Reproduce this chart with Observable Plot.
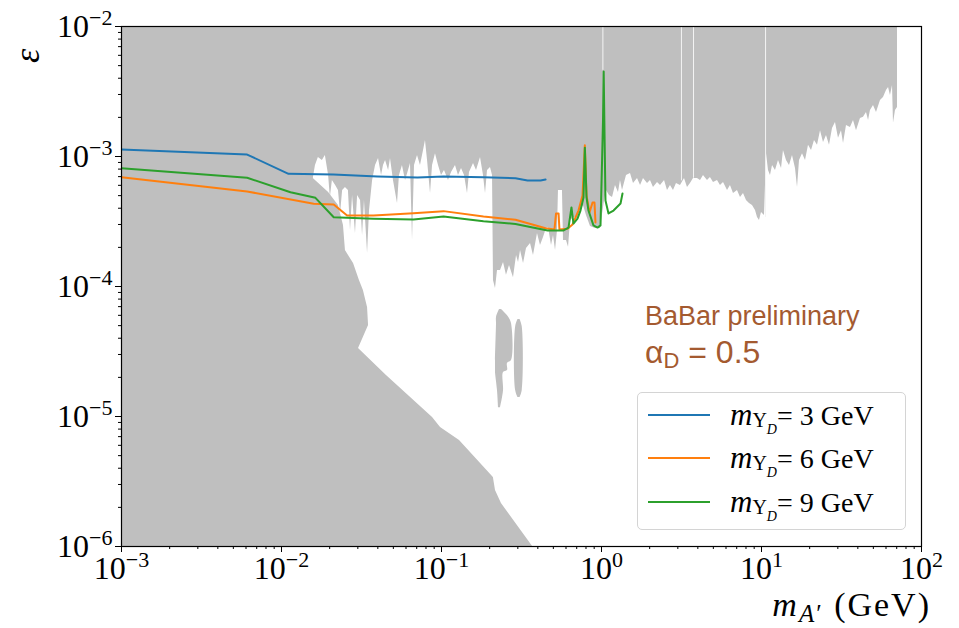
<!DOCTYPE html>
<html><head><meta charset="utf-8">
<script src="https://cdn.jsdelivr.net/npm/d3@7"></script>
<script src="https://cdn.jsdelivr.net/npm/@observablehq/plot@0.6"></script>
<style>
body{margin:0;background:#fff;}
#wrap{position:relative;width:959px;height:628px;font-family:"Liberation Serif",serif;color:#000;}
#wrap svg{position:absolute;left:0;top:0;}
.ann{position:absolute;white-space:nowrap;}
.brown{color:#a45a30;font-family:"Liberation Sans",Arial,sans-serif;}
.legend{position:absolute;left:637px;top:392px;width:269px;height:138px;border:1px solid #d4d4d4;border-radius:5px;background:rgba(255,255,255,0.85);box-sizing:border-box;}
.lrow{position:absolute;font-size:28px;line-height:34px;white-space:nowrap;}
.lline{position:absolute;height:2px;}
</style></head><body><div id="wrap"></div>
<script>
// ---- data (mass in GeV, epsilon) ----
const xTicks = [1e-3, 1e-2, 1e-1, 1, 10, 100];
const yTicks = [1e-6, 1e-5, 1e-4, 1e-3, 1e-2];

const seriesNames = ["3", "6", "9"];
const seriesColors = ["#1f77b4", "#ff7f0e", "#2ca02c"];

const blueMass = [0.001, 0.0061, 0.01106, 0.0211, 0.0398, 0.0708, 0.103, 0.183, 0.290, 0.345, 0.416, 0.447];
const blueEps  = [1.13e-3, 1.035e-3, 7.36e-4, 7.28e-4, 7.02e-4, 6.89e-4, 7.02e-4, 6.93e-4, 6.81e-4, 6.54e-4, 6.54e-4, 6.65e-4];

const orangeMass = [0.001, 0.0061, 0.0159, 0.0212, 0.0257, 0.0376, 0.0668, 0.103, 0.183, 0.290, 0.447, 0.508, 0.520, 0.539, 0.546, 0.613, 0.659, 0.718, 0.761, 0.787, 0.806, 0.841, 0.879, 0.904, 0.917];
const orangeEps  = [6.93e-4, 5.38e-4, 4.33e-4, 4.27e-4, 3.52e-4, 3.52e-4, 3.66e-4, 3.80e-4, 3.45e-4, 3.26e-4, 2.81e-4, 2.74e-4, 3.65e-4, 3.65e-4, 2.74e-4, 2.78e-4, 3.00e-4, 3.84e-4, 5.01e-4, 1.22e-3, 5.01e-4, 3.71e-4, 4.43e-4, 4.43e-4, 3.11e-4];

const greenMass = [0.001, 0.0061, 0.01138, 0.0163, 0.0212, 0.0376, 0.0668, 0.103, 0.183, 0.290, 0.460, 0.579, 0.622, 0.649, 0.668, 0.708, 0.739, 0.772, 0.787, 0.806, 0.829, 0.891, 0.944, 0.986, 1.022, 1.032, 1.044, 1.059, 1.106, 1.189, 1.315, 1.353];
const greenEps  = [8.13e-4, 6.86e-4, 5.31e-4, 4.81e-4, 3.41e-4, 3.32e-4, 3.28e-4, 3.45e-4, 3.18e-4, 3.03e-4, 2.70e-4, 2.70e-4, 2.84e-4, 4.06e-4, 3.05e-4, 3.33e-4, 3.84e-4, 4.84e-4, 1.17e-3, 4.84e-4, 3.84e-4, 2.95e-4, 2.84e-4, 2.95e-4, 1.89e-3, 4.51e-3, 1.58e-3, 4.59e-4, 3.65e-4, 3.84e-4, 4.35e-4, 5.19e-4];

// excluded region: lower edge of the upper band [mass, eps]
const upperEdge = [
[0.001,6.78e-4],
[0.0158,6.78e-4],[0.0163,8.53e-4],[0.0170,9.82e-4],[0.0180,9.31e-4],[0.0188,1.02e-3],[0.0197,7.14e-4],[0.0202,4.84e-4],[0.0208,6.54e-4],[0.0218,5.98e-4],[0.0227,5.48e-4],
[0.0234,3.65e-4],[0.0241,5.48e-4],[0.0251,5.78e-4],[0.0262,5.48e-4],[0.0270,2.70e-4],[0.0278,5.01e-4],[0.0290,2.56e-4],[0.0299,5.01e-4],[0.0312,4.59e-4],[0.0321,2.47e-4],
[0.0330,4.59e-4],[0.0345,1.80e-4],[0.0355,3.84e-4],[0.0371,6.54e-4],[0.0387,8.53e-4],[0.0404,9.66e-4],[0.0422,7.14e-4],[0.0434,8.53e-4],[0.0447,9.31e-4],[0.0467,7.80e-4],
[0.0480,9.66e-4],[0.0501,6.54e-4],[0.0531,4.35e-4],[0.0546,7.14e-4],[0.0570,8.53e-4],[0.0596,6.54e-4],[0.0622,7.80e-4],[0.0640,8.83e-4],[0.0659,2.26e-4],[0.0678,8.53e-4],
[0.0708,1.02e-3],[0.0739,8.53e-4],[0.0772,1.11e-3],[0.0794,1.33e-3],[0.0818,9.31e-4],[0.0854,5.19e-4],[0.0879,8.53e-4],[0.0917,1.05e-3],[0.0958,8.53e-4],[0.100,7.14e-4],
[0.1044,7.80e-4],[0.1106,6.54e-4],[0.1155,7.53e-4],[0.1223,8.53e-4],[0.1277,7.14e-4],[0.1334,8.09e-4],[0.1393,7.14e-4],[0.1454,5.19e-4],[0.1496,7.53e-4],[0.1585,8.83e-4],
[0.1655,7.80e-4],[0.1753,9.82e-4],[0.1830,7.14e-4],[0.1884,5.19e-4],[0.1939,7.80e-4],[0.2024,8.23e-4],[0.2084,7.14e-4],[0.2113,1.11e-4],[0.2175,9.66e-5],[0.2239,1.33e-4],
[0.2338,1.33e-4],[0.2441,1.53e-4],[0.2547,1.22e-4],[0.2661,1.45e-4],[0.2818,1.17e-4],[0.2944,1.73e-4],[0.3030,1.53e-4],[0.3119,1.89e-4],[0.3256,1.50e-4],[0.3398,1.96e-4],
[0.3600,2.14e-4],[0.3758,1.73e-4],[0.3981,2.56e-4],[0.4157,2.07e-4],[0.4340,2.38e-4],[0.4530,2.79e-4],[0.4667,2.84e-4],[0.4870,2.07e-4],[0.5012,2.47e-4],[0.5160,1.89e-4],
[0.5309,2.70e-4],[0.5383,5.48e-4],[0.5702,5.48e-4],[0.5788,2.26e-4],[0.6043,2.26e-4],[0.6223,2.0e-4],[0.6405,3.22e-4],[0.6683,3.40e-4],[0.7079,3.33e-4],[0.7391,3.84e-4],
[0.7718,4.20e-4],[0.8058,3.52e-4],[0.8536,2.90e-4],[0.9173,2.79e-4],[0.9857,2.79e-4],[1.0441,4.59e-4],[1.0746,5.48e-4],[1.122,5.01e-4],[1.172,4.84e-4],[1.223,5.98e-4],
[1.277,5.28e-4],[1.314,6.54e-4],[1.353,5.48e-4],[1.433,7.14e-4],[1.518,7.40e-4],[1.585,6.20e-4],[1.679,6.78e-4],[1.754,5.98e-4],[1.830,6.78e-4],[1.939,6.20e-4],
[2.024,6.54e-4],[2.113,5.78e-4],[2.239,6.31e-4],[2.338,5.98e-4],[2.477,6.54e-4],[2.585,5.48e-4],[2.698,5.98e-4],[2.818,5.48e-4],[2.942,6.20e-4],[3.117,5.98e-4],
[3.302,6.78e-4],[3.447,5.78e-4],[3.597,6.20e-4],[3.758,6.78e-4],[3.981,6.78e-4],[4.157,6.54e-4],[4.340,7.14e-4],[4.597,6.54e-4],[4.797,6.89e-4],[5.012,6.31e-4],
[5.309,6.54e-4],[5.541,5.98e-4],[5.788,6.31e-4],[6.131,5.48e-4],[6.398,5.98e-4],[6.683,5.19e-4],[7.079,5.48e-4],[7.391,4.84e-4],[7.718,5.19e-4],[8.058,4.59e-4],
[8.414,4.35e-4],[8.785,4.20e-4],[9.173,3.84e-4],[9.441,3.40e-4],[9.716,3.22e-4],[10.0,3.71e-4],[10.44,3.52e-4],[10.75,1.05e-3],[11.06,7.80e-4],[11.38,7.14e-4],
[11.72,8.53e-4],[12.23,7.80e-4],[12.77,9.31e-4],[13.34,8.09e-4],[13.72,1.11e-3],[14.33,9.31e-4],[14.96,8.53e-4],[15.62,1.02e-3],[16.31,8.09e-4],[16.79,5.78e-4],
[17.28,9.31e-4],[18.04,1.05e-3],[18.84,9.31e-4],[19.67,1.22e-3],[20.54,1.11e-3],[21.44,1.33e-3],[22.39,1.22e-3],[23.38,1.58e-3],[24.41,1.28e-3],[25.48,1.45e-3],
[26.61,1.22e-3],[27.78,1.64e-3],[29.0,1.83e-3],[30.28,1.38e-3],[31.62,1.58e-3],[32.55,1.26e-3],[33.98,1.73e-3],[35.97,1.67e-3],[37.58,1.89e-3],[39.24,1.58e-3],
[41.55,1.96e-3],[43.40,2.0e-3],[45.31,2.18e-3],[46.67,1.89e-3],[47.97,2.26e-3],[50.12,2.47e-3],[52.33,2.18e-3],[55.41,2.70e-3],[57.86,2.84e-3],[60.40,3.22e-3],
[62.23,3.40e-3],[63.97,2.95e-3],[65.90,3.52e-3],[66.83,1.80e-3],[68.77,2.26e-3],[70.79,2.38e-3]
];

// excluded region at low mass: right edge [mass, eps], from bottom to top
const leftEdge = [
[0.371,1e-6],[0.237,2.14e-6],[0.2175,2.70e-6],[0.211,3.40e-6],[0.1296,6.54e-6],[0.0986,8.23e-6],[0.0879,9.82e-6],[0.0453,2.07e-5],
[0.0303,3.34e-5],[0.035,5.01e-5],[0.0345,6.89e-5],[0.0325,9.31e-5],[0.0307,1.11e-4],[0.0282,1.50e-4],[0.0251,1.89e-4],[0.0244,2.95e-4],
[0.0227,4.20e-4],[0.0197,5.28e-4],[0.0158,6.78e-4],[0.0150,8.0e-4]
];

// small islands [eps, massLeft, massRight]
const island1 = [[6.65e-5,0.2304,0.2371],[5.78e-5,0.2207,0.2634],[5.19e-5,0.2207,0.2738],[2.70e-5,0.2175,0.2738],[2.56e-5,0.2175,0.2585],
                 [2.26e-5,0.2175,0.2585],[2.18e-5,0.2175,0.2441],[1.58e-5,0.2239,0.2441],[1.17e-5,0.2272,0.2338]];
const island2 = [[5.57e-5,0.3008,0.3097],[4.92e-5,0.2909,0.3194],[1.58e-5,0.2909,0.3194],[1.40e-5,0.3008,0.3097]];

// resonance gaps (white lines): mass, lower eps
const gapMass = [1.02, 3.16, 3.76, 10.6];
const gapLow  = [4.6e-3, 6.5e-4, 6.8e-4, 3.4e-4];

// ---- build ----
const xDomain = [1e-3, 1e2], yDomain = [1e-6, 1e-2];
const zip = (m, e) => m.map((v, i) => ({mass: v, eps: e[i]}));
const curves = [zip(blueMass, blueEps), zip(orangeMass, orangeEps), zip(greenMass, greenEps)];
const gaps = gapMass.map((m, i) => ({mass: m, low: gapLow[i]}));

const minor = (lo, hi) => { const out = []; for (let p = lo; p < hi; p++) for (let k = 2; k <= 9; k++) out.push(k * 10 ** p); return out; };
const fmt = d => "10^" + Math.round(Math.log10(d));
const gray = "#bfbfbf";

const marks = [
  Plot.areaY(upperEdge, {x: d => d[0], y1: d => d[1], y2: () => yDomain[1], fill: gray, clip: true}),
  Plot.areaX(leftEdge, {y: d => d[1], x1: () => xDomain[0], x2: d => d[0], fill: gray, clip: true}),
  Plot.areaX(island1, {y: d => d[0], x1: d => d[1], x2: d => d[2], fill: gray, curve: "catmull-rom"}),
  Plot.areaX(island2, {y: d => d[0], x1: d => d[1], x2: d => d[2], fill: gray, curve: "catmull-rom"}),
  Plot.ruleX(gaps, {x: "mass", y1: "low", y2: () => yDomain[1], stroke: "#f4f4f4", strokeWidth: 1}),
  ...curves.map((c, i) => Plot.line(c, {x: "mass", y: "eps", stroke: seriesColors[i], strokeWidth: 2, clip: true})),
  Plot.frame({stroke: "#000", strokeWidth: 1.2}),
  Plot.axisX(minor(-3, 2), {tickSize: 3, tickFormat: () => "", label: null}),
  Plot.axisY(minor(-6, -2), {tickSize: 3, tickFormat: () => "", label: null}),
  Plot.axisX(xTicks, {tickSize: 6, tickPadding: 4, tickFormat: fmt, label: null}),
  Plot.axisY(yTicks, {tickSize: 6, tickPadding: 3, tickFormat: fmt, label: null})
];

const chart = Plot.plot({
  width: 959, height: 628,
  marginLeft: 121, marginRight: 38, marginTop: 26, marginBottom: 82,
  x: {type: "log", domain: xDomain},
  y: {type: "log", domain: yDomain},
  style: {fontFamily: "Liberation Serif, serif", fontSize: "32px", color: "#000", background: "transparent"},
  marks
});

// superscript exponents in tick labels
chart.querySelectorAll("text").forEach(t => {
  const s = t.textContent;
  if (!s.startsWith("10^")) return;
  const e = s.slice(3).replace("-", "\u2212");
  t.textContent = "";
  const a = document.createElementNS("http://www.w3.org/2000/svg", "tspan");
  a.textContent = "10";
  const b = document.createElementNS("http://www.w3.org/2000/svg", "tspan");
  b.textContent = e;
  b.setAttribute("font-size", "22");
  b.setAttribute("dy", "-12");
  t.appendChild(a); t.appendChild(b);
});

const wrap = document.getElementById("wrap");
wrap.appendChild(chart);

function ann(html, css, cls) {
  const d = document.createElement("div");
  d.className = "ann " + (cls || "");
  d.innerHTML = html;
  Object.assign(d.style, css);
  wrap.appendChild(d);
  return d;
}
// axis titles
ann("<i>ε</i>", {left: "20px", top: "36px", fontSize: "36px", lineHeight: "40px", transform: "rotate(-90deg)"});
ann("<i>m</i><span style='font-size:25px;position:relative;top:6px'><i>A</i>′</span> (GeV)",
    {right: "28px", top: "588px", fontSize: "34px", lineHeight: "34px", letterSpacing: "2px"});
// annotations
ann("BaBar preliminary", {left: "645px", top: "300px", fontSize: "27px", lineHeight: "32px"}, "brown");
ann("α<span style='font-size:22px;position:relative;top:5px'>D</span> = 0.5", {left: "645px", top: "333px", fontSize: "32px", lineHeight: "38px"}, "brown");

// legend
const lg = document.createElement("div");
lg.className = "legend";
wrap.appendChild(lg);
const rowCenters = [22, 65, 109];
seriesNames.forEach((n, i) => {
  const l = document.createElement("div");
  l.className = "lline";
  Object.assign(l.style, {left: "10px", width: "62px", top: (rowCenters[i] - 1) + "px", background: seriesColors[i]});
  lg.appendChild(l);
  const r = document.createElement("div");
  r.className = "lrow";
  r.style.left = "92px";
  r.style.top = (rowCenters[i] - 17) + "px";
  r.innerHTML = "<i style='font-size:31px'>m</i><span style='font-size:20px;position:relative;top:2px'>Υ<i style='font-size:14px;position:relative;top:7px'>D</i></span>= " + n + " GeV";
  lg.appendChild(r);
});
</script>
</body></html>
